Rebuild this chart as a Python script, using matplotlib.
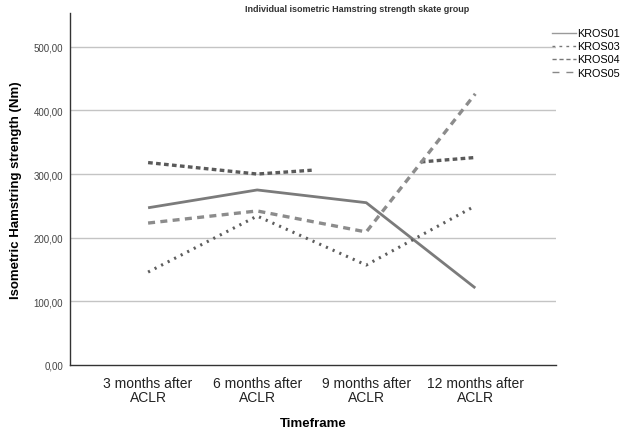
import numpy as np
import matplotlib
matplotlib.use("Agg")
from matplotlib import pyplot as plt
from matplotlib.lines import Line2D

plt.rcParams['font.family'] = ['Liberation Sans', 'DejaVu Sans']

# data
categories = ['3 months after\nACLR', '6 months after\nACLR', '9 months after\nACLR', '12 months after\nACLR']
kros01 = [247, 275, 255, 121]
kros03 = [146, 234, 157, 250]
kros04 = [318, 300, 312, 326]
kros05 = [223, 242, 209, 426]
yticks = [0, 100, 200, 300, 400, 500]

x = np.arange(len(categories))

fig = plt.figure(figsize=(6.3, 4.35), dpi=100)
ax = fig.add_axes([70 / 630, 1 - 366 / 435, 486 / 630, 352 / 435])

for y in yticks[1:]:
    ax.axhline(y, color='#c4c4c4', lw=1.0, zorder=0)

ax.plot(x, kros01, color='#7b7b7b', lw=2.0, solid_capstyle='butt')
ax.plot(x, kros03, color='#5e5e5e', lw=2.2, linestyle=(0, (0.7, 1.7)), dash_capstyle='butt')
# KROS04: middle part around 9 months is not drawn in the original
xa = np.linspace(0, 1.5, 16)
xb = np.linspace(2.5, 3, 6)
ax.plot(xa, np.interp(xa, x, kros04), color='#5a5a5a', lw=2.4, linestyle=(0, (1.4, 1.0)))
ax.plot(xb, np.interp(xb, x, kros04), color='#5a5a5a', lw=2.4, linestyle=(0, (1.4, 1.0)))
ax.plot(x, kros05, color='#8c8c8c', lw=2.4, linestyle=(0, (2.1, 1.6)))

ax.set_xlim(-0.716, 3.74)
ax.set_ylim(0, 553)
ax.set_yticks(yticks)
ax.set_yticklabels(['%d,00' % v for v in yticks], fontsize=7, color='#444444')
ax.set_xticks(x)
ax.set_xticklabels(categories, fontsize=10, color='#222222', linespacing=1.0)
ax.tick_params(axis='x', length=0, pad=8)
ax.tick_params(axis='y', length=0, pad=5)
for s in ['top', 'right']:
    ax.spines[s].set_visible(False)
for s in ['left', 'bottom']:
    ax.spines[s].set_color('#333333')
    ax.spines[s].set_linewidth(1.0)

ax.set_xlabel('Timeframe', fontsize=9.5, fontweight='bold', labelpad=9)
ax.set_ylabel('Isometric Hamstring strength (Nm)', fontsize=9.5, fontweight='bold', labelpad=8)
fig.text(357 / 630, 1 - 10 / 435, 'Individual isometric Hamstring strength skate group',
         ha='center', va='center', fontsize=6.5, fontweight='bold', color='#333333')

handles = [
    Line2D([], [], color='#9a9a9a', lw=1.0),
    Line2D([], [], color='#777777', lw=1.0, linestyle=(0, (2, 3))),
    Line2D([], [], color='#777777', lw=1.0, linestyle=(0, (3, 2))),
    Line2D([], [], color='#888888', lw=1.0, linestyle=(0, (5, 5))),
]
fig.legend(handles, ['KROS01', 'KROS03', 'KROS04', 'KROS05'], loc='upper left',
           bbox_to_anchor=(547 / 630, 1 - 24 / 435), frameon=False, fontsize=7.8,
           handlelength=2.2, handletextpad=0.1, labelspacing=0.28, borderpad=0)

fig.savefig('out.png', dpi=100)
